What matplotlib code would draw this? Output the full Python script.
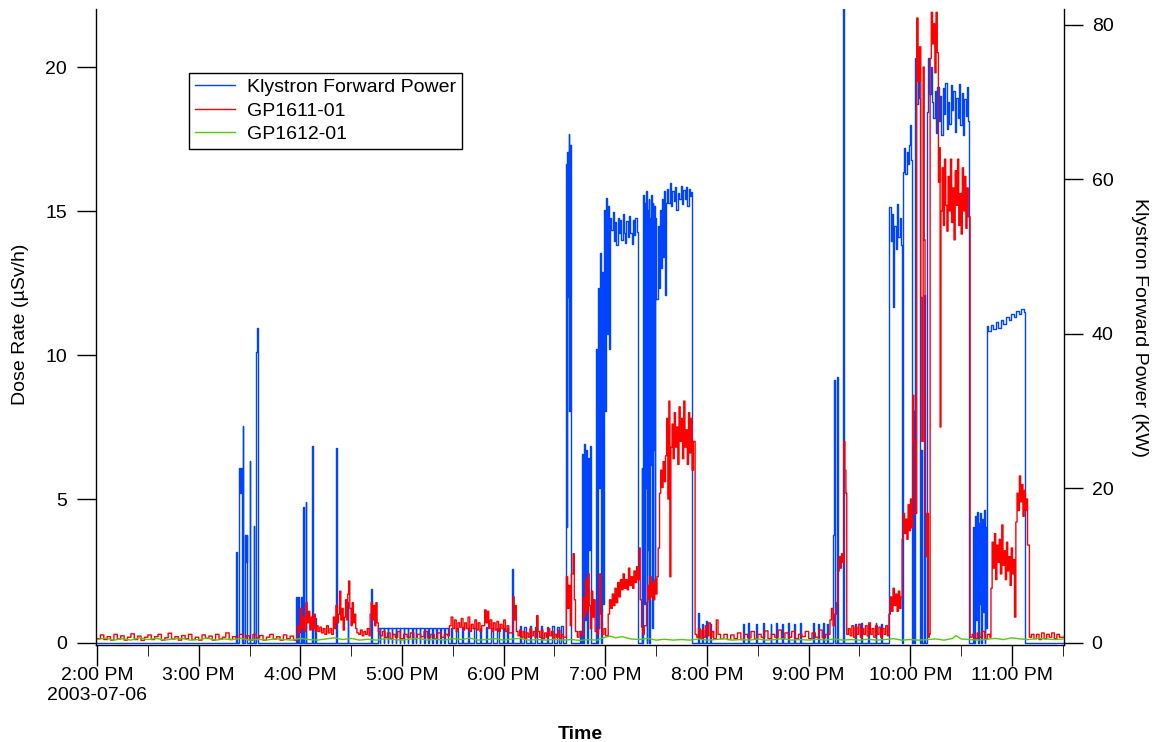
import matplotlib
matplotlib.use("Agg")
import matplotlib.pyplot as plt
import matplotlib.dates as mdates
from matplotlib.ticker import FuncFormatter
from datetime import datetime, timedelta

plt.rcParams['font.family'] = ['Liberation Sans', 'DejaVu Sans']

# time is minutes after 2:00 PM on 2003-07-06
start = datetime(2003, 7, 6, 14, 0)

# Klystron forward power (kW), (minute, value)
klystron = [
    (0, 0), (82.0, 11.8), (82.6, 0), (83.7, 22.6), (84.2, 19.4), (84.8, 22.6), (85.3, 0),
    (85.9, 28.1), (86.3, 0), (87.2, 14.0), (87.7, 10.5), (88.3, 14.0), (88.8, 0),
    (90.0, 23.6), (90.4, 0), (92.4, 15.1), (92.8, 0), (94.0, 37.7), (94.4, 40.8), (94.8, 0),
    (117.6, 6.0), (118.0, 0), (118.6, 6.0), (119.4, 0), (120.3, 6.0), (121.0, 0),
    (121.5, 17.6), (122.0, 0), (123.1, 18.3), (123.5, 0), (127.0, 25.5), (127.4, 0),
    (128.6, 3.2), (129.0, 0), (141.2, 25.2), (141.6, 0), (147.9, 5.3), (148.3, 0),
    (161.9, 7.0), (162.3, 0),
    (165.6, 1.9), (167.0, 0), (167.3, 2.0), (169.2, 0), (169.5, 1.9), (171.5, 0), (171.8, 2.0),
    (174.0, 0), (174.3, 1.9), (176.3, 0), (176.6, 2.0), (178.6, 0), (178.9, 1.9), (181.0, 0),
    (181.3, 2.0), (183.4, 0), (183.7, 1.9), (186.0, 0), (186.3, 2.0), (188.2, 0), (188.5, 1.9),
    (190.6, 0), (190.9, 2.0), (193.0, 0), (193.3, 1.9), (195.5, 0), (195.8, 2.0), (197.8, 0),
    (198.1, 1.9), (200.2, 0), (200.5, 2.0), (202.6, 0), (202.9, 1.9), (205.0, 0), (205.3, 2.0),
    (207.0, 0), (209.0, 2.0), (209.8, 0), (212.0, 1.9), (213.0, 0), (215.5, 2.1), (216.3, 0),
    (219.0, 2.0), (219.8, 0), (222.5, 1.9), (223.5, 0), (226.0, 2.0), (226.8, 0), (229.3, 2.1),
    (230.2, 0), (232.8, 2.0), (233.6, 0), (236.0, 1.9), (237.0, 0), (239.5, 2.0), (240.3, 0),
    (242.0, 1.9), (242.8, 0), (245.0, 9.6), (245.5, 0), (249.5, 2.2), (250.3, 0), (252.0, 2.1),
    (253.0, 0), (255.5, 2.2), (256.2, 0), (258.5, 2.1), (259.5, 0), (262.0, 2.2), (262.8, 0),
    (265.5, 2.1), (266.3, 0), (268.8, 2.2), (269.8, 0), (271.5, 2.1), (272.5, 0), (274.0, 2.2),
    (275.0, 0),
    (276.9, 62.0), (277.3, 15.0), (277.6, 63.5), (278.0, 44.8), (278.4, 65.9), (278.8, 30.0),
    (279.2, 64.5), (279.6, 50.0), (279.9, 0),
    (285.0, 1.6), (285.5, 0), (286.3, 24.5), (286.9, 0), (287.4, 25.7), (288.0, 3.0),
    (288.6, 25.0), (289.2, 0), (289.8, 24.0), (290.4, 12.0), (290.9, 25.5), (291.8, 0),
    (294.4, 38.0), (295.0, 0), (295.5, 46.0), (296.1, 20.0), (296.6, 50.5), (297.2, 0),
    (297.8, 48.0), (298.5, 5.0), (299.1, 56.0), (299.8, 30.0), (300.4, 57.6), (301.0, 40.0),
    (301.6, 56.5), (302.2, 38.0), (302.7, 55.0),
    (303.5, 53.5), (304.3, 55.8), (305.0, 52.0), (305.8, 54.5), (306.5, 51.5), (307.3, 55.0),
    (308.0, 53.0), (308.8, 54.8), (309.5, 52.2), (310.3, 55.5), (311.0, 53.0), (311.8, 51.8),
    (312.5, 54.6), (313.3, 52.5), (314.0, 55.2), (314.8, 53.0), (315.5, 51.6), (316.3, 54.8),
    (317.0, 52.8), (317.8, 55.0), (318.5, 53.2), (319.4, 0),
    (321.4, 22.6), (321.9, 0), (322.4, 58.0), (322.8, 5.0), (323.2, 57.0), (323.6, 20.0),
    (324.0, 58.5), (324.4, 0), (324.8, 56.0), (325.2, 12.0), (325.6, 57.5), (326.0, 0),
    (326.4, 55.0), (326.8, 23.0), (327.2, 58.0), (327.6, 2.0), (328.0, 57.0), (328.4, 25.0),
    (328.8, 56.5), (329.2, 8.0), (329.6, 55.0), (330.2, 44.5), (330.8, 54.0), (331.4, 46.0),
    (332.0, 56.0), (332.6, 48.5), (333.2, 57.5), (333.8, 50.0), (334.4, 58.5), (335.1, 45.0),
    (335.6, 57.0),
    (336.4, 58.8), (337.2, 57.0), (338.0, 59.5), (338.8, 56.5), (339.6, 58.5), (340.4, 57.2),
    (341.2, 59.0), (342.0, 56.0), (342.8, 58.2), (343.6, 57.5), (344.4, 59.2), (345.2, 56.8),
    (346.0, 58.6), (346.8, 57.4), (347.6, 59.0), (348.4, 56.6), (349.2, 58.8), (350.0, 57.8),
    (350.8, 58.4), (351.3, 0),
    (354.7, 3.9), (355.2, 0), (357.0, 2.5), (357.5, 0), (359.5, 2.8), (360.0, 0), (362.0, 2.4),
    (362.5, 0), (381.2, 2.5), (381.7, 0), (384.5, 2.6), (385.0, 0), (389.0, 2.4), (389.5, 0),
    (393.0, 2.6), (393.6, 0), (397.5, 2.5), (398.0, 0), (401.0, 2.6), (401.5, 0), (404.5, 2.4),
    (405.0, 0), (408.0, 2.6), (408.6, 0), (411.5, 2.5), (412.0, 0), (415.0, 2.6), (415.6, 0),
    (422.5, 2.6), (423.0, 0), (425.5, 2.5), (426.0, 0), (428.5, 2.6), (429.0, 0), (431.0, 2.5),
    (431.6, 0),
    (434.3, 14.0), (434.7, 34.0), (435.3, 0), (436.7, 34.4), (437.2, 0), (440.2, 83.0), (440.7, 0),
    (447.3, 2.5), (447.8, 0), (451.0, 2.6), (451.5, 0), (455.0, 2.4), (455.6, 0), (459.5, 2.6),
    (460.0, 0), (463.0, 2.5), (463.5, 0),
    (467.6, 56.4), (468.4, 52.0), (469.2, 55.5), (470.0, 43.5), (470.6, 54.0), (471.4, 51.0),
    (472.2, 56.8), (473.0, 52.5), (473.8, 55.0), (474.5, 51.5), (475.0, 0),
    (475.5, 61.0), (476.3, 64.0), (477.0, 60.7), (477.8, 63.5), (478.6, 62.0), (479.4, 64.5),
    (479.9, 67.0), (480.5, 62.5), (480.9, 0), (481.5, 30.0), (482.0, 0), (482.8, 75.7),
    (483.6, 69.8), (484.4, 74.0), (485.2, 70.5), (485.8, 0), (486.6, 25.0), (487.2, 0),
    (488.0, 45.0), (488.6, 0), (489.7, 68.7), (490.4, 75.7), (491.2, 71.0), (492.0, 74.5),
    (492.7, 70.0),
    (493.5, 68.0), (494.3, 71.5), (495.1, 66.0), (495.9, 72.0), (496.7, 67.5), (497.5, 70.8),
    (498.3, 65.8), (499.1, 71.8), (499.9, 68.5), (500.7, 72.5), (501.5, 66.5), (502.3, 70.0),
    (503.1, 67.2), (503.9, 72.2), (504.7, 69.0), (505.5, 71.5), (506.3, 66.2), (507.1, 70.6),
    (507.9, 68.0), (508.7, 72.4), (509.5, 67.0), (510.3, 71.2), (511.1, 65.8), (511.9, 70.4),
    (512.7, 68.2), (513.5, 72.0), (514.3, 67.5), (514.9, 0),
    (517.2, 15.0), (517.7, 0), (518.3, 16.5), (518.8, 3.0), (519.3, 17.0), (519.8, 0),
    (520.3, 15.5), (520.8, 5.0), (521.3, 16.8), (521.8, 0), (522.3, 16.0), (522.8, 4.0),
    (523.3, 17.2), (523.8, 0), (524.3, 15.0), (524.8, 2.0),
    (525.3, 41.0), (526.0, 40.4), (527.5, 41.2), (529.0, 40.6), (530.5, 41.5), (532.0, 40.8),
    (533.5, 41.8), (535.0, 41.3), (536.5, 42.2), (538.0, 41.8), (539.5, 42.6), (541.0, 42.2),
    (542.5, 43.0), (544.0, 42.6), (545.5, 43.2), (547.0, 42.9), (547.8, 0), (571, 0),
]

# GP1611-01 dose rate (uSv/h), (minute, value)
gp1611 = [
    (0, 0.15), (2, 0.28), (4, 0.12), (6, 0.22), (8, 0.1), (10, 0.3), (12, 0.14), (14, 0.25),
    (16, 0.1), (18, 0.2), (20, 0.32), (22, 0.12), (24, 0.24), (26, 0.09), (28, 0.2), (30, 0.28),
    (32, 0.12), (34, 0.22), (36, 0.3), (38, 0.1), (40, 0.18), (42, 0.34), (44, 0.14), (46, 0.22),
    (48, 0.1), (50, 0.26), (52, 0.15), (54, 0.3), (56, 0.12), (58, 0.2), (60, 0.1), (62, 0.28),
    (64, 0.16), (66, 0.24), (68, 0.1), (70, 0.3), (72, 0.14), (74, 0.2), (76, 0.35), (78, 0.12),
    (80, 0.22), (82, 0.16), (84, 0.3), (86, 0.12), (88, 0.25), (90, 0.1), (92, 0.3), (94, 0.18),
    (96, 0.26), (98, 0.1), (100, 0.2), (102, 0.3), (104, 0.14), (106, 0.22), (108, 0.1),
    (110, 0.28), (112, 0.15), (114, 0.24), (116, 0.1),
    (118.4, 0.6), (119.2, 0.35), (120.0, 1.2), (120.8, 0.5), (121.6, 0.9), (122.4, 0.4),
    (123.3, 1.4), (124.0, 0.7), (124.8, 1.1), (125.6, 0.45), (126.4, 0.9), (127.2, 0.5),
    (128.0, 1.0), (128.8, 0.4), (129.6, 0.6), (130.5, 0.4), (131.5, 0.55), (132.5, 0.35),
    (133.5, 0.5), (134.5, 0.3), (135.5, 0.6), (136.5, 0.35), (137.5, 0.5), (138.5, 0.3),
    (139.5, 0.9), (140.3, 0.5), (141.0, 1.3), (141.8, 0.7), (142.5, 1.0), (143.2, 1.8),
    (143.9, 0.8), (144.6, 1.2), (145.3, 0.45), (146.0, 0.9), (146.7, 1.5), (147.4, 0.8),
    (148.0, 1.7), (148.5, 2.15), (149.2, 1.2), (149.9, 0.6), (150.6, 1.4), (151.3, 0.7),
    (152.0, 1.0), (152.7, 0.5), (153.4, 0.35), (154.5, 0.3), (155.5, 0.45), (156.5, 0.25),
    (157.5, 0.4), (158.5, 0.3), (159.5, 0.5), (160.5, 0.25),
    (161.2, 1.0), (161.8, 1.4), (162.5, 0.8), (163.2, 1.3), (163.9, 0.6), (164.6, 1.4),
    (165.3, 0.7), (166.0, 0.4), (167.0, 0.25),
    (168.5, 0.4), (170, 0.2), (171.5, 0.35), (173, 0.15), (174.5, 0.3), (176, 0.2), (177.5, 0.4),
    (179, 0.15), (181, 0.3), (183, 0.2), (185, 0.35), (187, 0.15), (189, 0.3), (191, 0.22),
    (193, 0.4), (195, 0.18), (197, 0.3), (199, 0.15), (201, 0.35), (203, 0.2), (205, 0.3),
    (207, 0.25),
    (208, 0.6), (209, 0.9), (210, 0.5), (211, 0.8), (212, 0.4), (213, 0.7), (214, 0.55),
    (215, 0.85), (216, 0.45), (217, 0.7), (218, 0.5), (219, 0.9), (220, 0.4), (221, 0.65),
    (222, 0.5), (223, 0.8), (224, 0.45), (225, 0.7), (226, 0.4), (227, 0.6), (228.8, 1.15),
    (229.6, 0.7), (230.4, 1.1), (231.2, 0.5), (232, 0.8), (233, 0.4), (234, 0.7), (235, 0.45),
    (236, 0.75), (237, 0.4), (238, 0.65), (239, 0.5), (240, 0.8), (241, 0.4), (242, 0.6),
    (243, 0.35),
    (245.6, 1.6), (246.2, 0.8), (246.8, 1.3), (247.5, 0.4), (248.5, 0.25), (249.5, 0.45),
    (250.5, 0.2), (251.5, 0.4), (252.5, 0.15), (253.5, 0.35), (254.5, 0.2), (255.5, 0.5),
    (256.5, 0.25), (257.5, 0.4), (258.5, 0.2), (259.5, 0.95), (260.3, 0.4), (261.2, 0.2),
    (262.2, 0.45), (263.2, 0.15), (264.2, 0.35), (265.2, 0.2), (266.2, 0.5), (267.2, 0.25),
    (268.2, 0.4), (269.2, 0.15), (270.2, 0.3), (271.2, 0.2), (272.2, 0.45), (273.2, 0.15),
    (274.2, 0.3), (275.2, 0.2),
    (277.0, 2.3), (277.8, 1.2), (278.5, 2.0), (279.3, 0.6), (280.0, 2.4), (281.0, 3.1),
    (281.7, 1.5), (282.4, 0.4), (283.5, 0.2), (284.5, 0.4), (285.5, 0.25),
    (287.0, 1.6), (287.7, 0.9), (288.4, 2.2), (289.1, 1.1), (289.8, 2.4), (290.5, 1.3),
    (291.2, 0.5), (291.9, 1.8), (292.6, 0.9), (293.3, 1.5), (294.0, 0.4), (295.0, 0.3),
    (296.0, 0.5), (296.7, 2.4), (297.5, 1.0), (298.2, 0.3), (299.2, 0.5), (300.2, 0.25),
    (301.7, 1.0), (302.5, 1.5), (303.3, 1.2), (304.1, 1.7), (304.9, 1.3), (305.7, 1.9),
    (306.5, 1.4), (307.3, 2.1), (308.1, 1.6), (308.9, 2.2), (309.7, 1.85), (310.5, 2.4),
    (311.3, 1.9), (312.1, 2.2), (312.9, 1.85), (313.7, 2.6), (314.5, 2.0), (315.3, 2.3),
    (316.1, 1.9), (316.9, 2.5), (317.7, 2.1), (318.5, 2.65), (319.2, 2.2), (320.0, 3.3),
    (320.6, 1.5), (321.4, 0.55), (322.2, 0.3), (323.0, 0.6),
    (324.3, 1.4), (325.0, 2.0), (325.7, 1.5), (326.4, 2.3), (327.1, 1.6), (327.8, 2.1),
    (328.5, 1.5), (329.2, 2.2), (329.9, 1.7), (330.5, 2.3), (331.2, 3.3), (332.0, 5.2),
    (332.7, 6.0), (333.4, 5.4), (334.1, 6.3), (334.8, 5.6), (335.5, 6.5), (336.2, 7.8),
    (336.9, 5.0), (337.5, 8.4), (338.1, 2.3), (338.7, 6.8), (339.4, 7.6), (340.0, 6.4),
    (340.7, 8.0), (341.4, 6.8), (342.1, 7.5), (342.8, 6.2), (343.5, 8.2), (344.2, 7.0),
    (344.9, 7.8), (345.6, 6.4), (346.3, 8.4), (347.0, 6.8), (347.7, 7.4), (348.4, 6.2),
    (349.1, 8.0), (349.8, 6.6), (350.5, 7.8), (351.2, 6.0), (352.0, 7.0), (353.0, 0.3),
    (354, 0.2), (355, 0.5), (356, 0.15), (357, 0.45), (358, 0.2), (359, 0.6), (360, 0.25),
    (361, 0.7), (362, 0.2), (363, 0.4), (364, 0.15), (365.5, 0.8), (366.5, 0.3), (368, 0.15),
    (370, 0.3), (372, 0.12), (374, 0.28), (376, 0.15), (378, 0.35), (380, 0.12), (382, 0.3),
    (384, 0.18), (386, 0.4), (388, 0.15), (390, 0.3), (392, 0.2), (394, 0.42), (396, 0.15),
    (398, 0.3), (400, 0.2), (402, 0.45), (404, 0.15), (406, 0.35), (408, 0.2), (410, 0.4),
    (412, 0.15), (414, 0.3), (416, 0.22), (418, 0.4), (420, 0.15), (422, 0.35), (424, 0.2),
    (426, 0.45), (428, 0.18), (430, 0.3),
    (432.6, 0.8), (433.5, 1.2), (434.4, 0.6), (435.2, 1.0), (436.5, 1.4), (437.3, 2.5),
    (438.0, 3.0), (438.7, 2.6), (439.4, 3.1), (440.0, 2.8), (440.8, 7.0), (441.4, 6.0),
    (442.0, 5.2), (442.5, 0.3),
    (443.5, 0.5), (444.5, 0.25), (445.5, 0.6), (446.5, 0.2), (447.5, 0.55), (448.5, 0.3),
    (449.5, 0.65), (450.5, 0.2), (451.5, 0.5), (452.5, 0.3), (453.5, 0.6), (454.5, 0.25),
    (455.5, 0.7), (456.5, 0.3), (457.5, 0.5), (458.5, 0.2), (459.5, 0.6), (460.5, 0.3),
    (461.5, 0.55), (462.5, 0.2), (463.5, 0.5), (464.5, 0.3), (465.5, 0.6), (466.5, 0.25),
    (467.4, 1.0), (468.2, 1.6), (469.0, 1.1), (469.8, 1.9), (470.6, 1.3), (471.4, 1.7),
    (472.2, 1.1), (473.0, 1.8), (473.8, 1.2), (474.5, 1.6), (475.2, 3.6), (475.9, 4.5),
    (476.6, 3.8), (477.3, 4.3), (478.0, 3.6), (478.7, 4.8), (479.4, 3.9), (480.1, 5.0),
    (480.8, 4.0), (481.4, 8.6), (482.1, 7.0), (482.8, 4.5), (483.8, 21.7), (484.6, 19.5),
    (485.4, 20.7), (486.2, 12.0), (486.8, 7.0), (487.6, 20.0), (488.2, 14.0), (488.7, 4.5),
    (489.5, 3.0), (490.2, 4.5), (490.7, 0.2), (491.2, 0.3), (491.7, 20.3), (492.4, 21.9),
    (493.1, 20.8), (493.8, 21.5), (494.5, 19.8), (495.2, 21.9), (495.9, 20.5), (496.6, 16.0),
    (497.2, 17.2), (497.6, 7.5), (498.1, 15.0), (498.8, 16.5), (499.5, 14.5), (500.2, 16.8),
    (500.9, 15.2), (501.6, 14.3), (502.3, 16.2), (503.0, 15.0), (503.7, 16.8), (504.4, 14.6),
    (505.1, 15.8), (505.8, 14.0), (506.5, 16.4), (507.2, 15.2), (507.9, 16.8), (508.6, 14.5),
    (509.3, 15.6), (510.0, 14.2), (510.7, 16.5), (511.4, 15.0), (512.1, 16.2), (512.8, 14.4),
    (513.5, 15.8), (514.2, 14.8), (515.3, 0.2),
    (516.5, 0.3), (518, 0.15), (519.5, 0.35), (521, 0.2), (522.5, 0.4), (524, 0.15),
    (525.5, 0.3), (527.0, 0.2),
    (527.6, 1.9), (528.3, 3.5), (529.0, 2.6), (529.7, 3.8), (530.4, 2.2), (531.1, 3.4),
    (531.8, 2.8), (532.5, 3.6), (533.2, 2.4), (534.0, 4.1), (534.7, 2.7), (535.4, 3.2),
    (536.1, 2.2), (536.8, 3.5), (537.5, 2.5), (538.2, 3.0), (538.9, 2.0), (539.6, 3.3),
    (540.3, 2.4), (541.0, 2.9), (541.5, 0.9), (542.3, 4.2), (543.0, 5.2), (543.7, 4.6),
    (544.4, 5.8), (545.1, 4.9), (545.8, 5.5), (546.5, 4.4), (547.2, 5.3), (547.9, 4.6),
    (548.6, 5.0), (549.2, 3.4), (550.3, 0.2),
    (551.5, 0.3), (553, 0.15), (554.5, 0.3), (556, 0.12), (557.5, 0.35), (559, 0.15),
    (560.5, 0.3), (562, 0.2), (563.5, 0.35), (565, 0.15), (566.5, 0.3), (568, 0.2), (571, 0.25),
]

# GP1612-01 dose rate (uSv/h), (minute, value)
gp1612 = [
    (0, 0.12), (5, 0.17), (10, 0.1), (15, 0.15), (20, 0.1), (25, 0.18), (30, 0.12), (35, 0.16),
    (40, 0.1), (45, 0.14), (50, 0.16), (55, 0.1), (60, 0.12), (65, 0.17), (70, 0.1), (75, 0.14),
    (80, 0.12), (85, 0.16), (90, 0.1), (95, 0.13), (100, 0.1), (105, 0.15), (110, 0.12),
    (115, 0.1), (120, 0.16), (125, 0.12), (130, 0.1), (135, 0.14), (140, 0.18), (145, 0.12),
    (150, 0.16), (155, 0.1), (160, 0.13), (165, 0.1), (170, 0.15), (175, 0.12), (180, 0.1),
    (185, 0.14), (190, 0.16), (195, 0.1), (200, 0.13), (205, 0.1), (210, 0.15), (215, 0.12),
    (220, 0.17), (225, 0.1), (230, 0.12), (235, 0.15), (240, 0.1), (245, 0.14), (250, 0.16),
    (255, 0.1), (260, 0.12), (265, 0.1), (270, 0.13), (275, 0.1), (280, 0.12), (285, 0.09),
    (290, 0.12), (295, 0.1), (300, 0.2), (303, 0.24), (306, 0.18), (310, 0.22), (315, 0.14),
    (320, 0.12), (325, 0.16), (330, 0.1), (335, 0.13), (340, 0.1), (345, 0.12), (350, 0.1),
    (355, 0.14), (360, 0.1), (365, 0.12), (370, 0.15), (375, 0.1), (380, 0.12), (385, 0.1),
    (390, 0.14), (395, 0.1), (400, 0.12), (405, 0.15), (410, 0.1), (415, 0.12), (420, 0.1),
    (425, 0.13), (430, 0.1), (435, 0.14), (440, 0.1), (445, 0.12), (450, 0.1), (455, 0.13),
    (460, 0.1), (465, 0.12), (470, 0.15), (475, 0.1), (480, 0.12), (485, 0.1), (490, 0.12),
    (495, 0.14), (500, 0.1), (505, 0.16), (507, 0.26), (510, 0.14), (515, 0.12), (520, 0.1),
    (525, 0.13), (530, 0.16), (535, 0.12), (540, 0.18), (545, 0.14), (550, 0.12), (555, 0.16),
    (560, 0.14), (565, 0.12), (571, 0.14),
]


def to_dates(pairs):
    return [start + timedelta(minutes=m) for m, _ in pairs], [v for _, v in pairs]


kt, kv = to_dates(klystron)
rt, rv = to_dates(gp1611)
gt, gv = to_dates(gp1612)

fig = plt.figure(figsize=(11.58, 7.42), dpi=100)
ax = fig.add_axes([0.0829, 0.1311, 0.8359, 0.8562])
ax2 = ax.twinx()
# dose traces drawn over the power trace
ax.set_zorder(ax2.get_zorder() + 1)
ax.patch.set_visible(False)

blue = '#0044ff'
l1, = ax2.plot(kt, kv, color=blue, lw=1.0, drawstyle='steps-post', label='Klystron Forward Power')
l2, = ax.plot(rt, rv, color='#ff0000', lw=1.0, drawstyle='steps-post', label='GP1611-01')
l3, = ax.plot(gt, gv, color='#55cc00', lw=1.0, label='GP1612-01')

ax.set_xlim(start - timedelta(minutes=0.6), start + timedelta(minutes=570.7))
ax.set_ylim(-0.06, 22.0)
ax2.set_ylim(-0.224, 82.0)

ax.set_yticks([0, 5, 10, 15, 20])
ax2.set_yticks([0, 20, 40, 60, 80])

ax.xaxis.set_major_locator(mdates.HourLocator())
ax.xaxis.set_minor_locator(mdates.MinuteLocator(byminute=[30]))


def fmt_time(x, pos):
    d = mdates.num2date(x)
    lab = '%d:%02d PM' % (d.hour - 12, d.minute)
    if d.hour == 14:
        lab += '\n2003-07-06'
    return lab


ax.xaxis.set_major_formatter(FuncFormatter(fmt_time))

fs = 14
for a in (ax, ax2):
    a.spines['top'].set_visible(False)
    a.tick_params(labelsize=fs, direction='out', width=1, colors='black')
    for s in a.spines.values():
        s.set_linewidth(1.0)
ax.spines['right'].set_visible(False)
ax2.spines['left'].set_visible(False)
ax2.spines['bottom'].set_visible(False)
ax.tick_params(axis='y', length=14, pad=7)
ax2.tick_params(axis='y', length=14, pad=6)
ax.tick_params(axis='x', which='major', length=15, pad=1)
ax.tick_params(axis='x', which='minor', length=8)

ax.set_ylabel('Dose Rate (µSv/h)', fontsize=fs, va='center')
ax.yaxis.set_label_coords(-0.0785, 0.505)
ax2.set_ylabel('Klystron Forward Power (KW)', fontsize=fs, rotation=270, va='center')
ax2.yaxis.set_label_coords(1.0785, 0.5)
ax.set_xlabel('Time', fontsize=fs, fontweight='bold', va='center')
ax.xaxis.set_label_coords(0.5, -0.142)

leg = fig.legend(handles=[l1, l2, l3], loc='upper left', bbox_to_anchor=(0.163, 0.902),
                 fontsize=fs, frameon=True, fancybox=False, framealpha=1,
                 edgecolor='black', borderpad=0.3, labelspacing=0.3,
                 handlelength=2.1, handletextpad=0.6, borderaxespad=0)
leg.get_frame().set_linewidth(1.0)

fig.savefig('out.png', dpi=100)
